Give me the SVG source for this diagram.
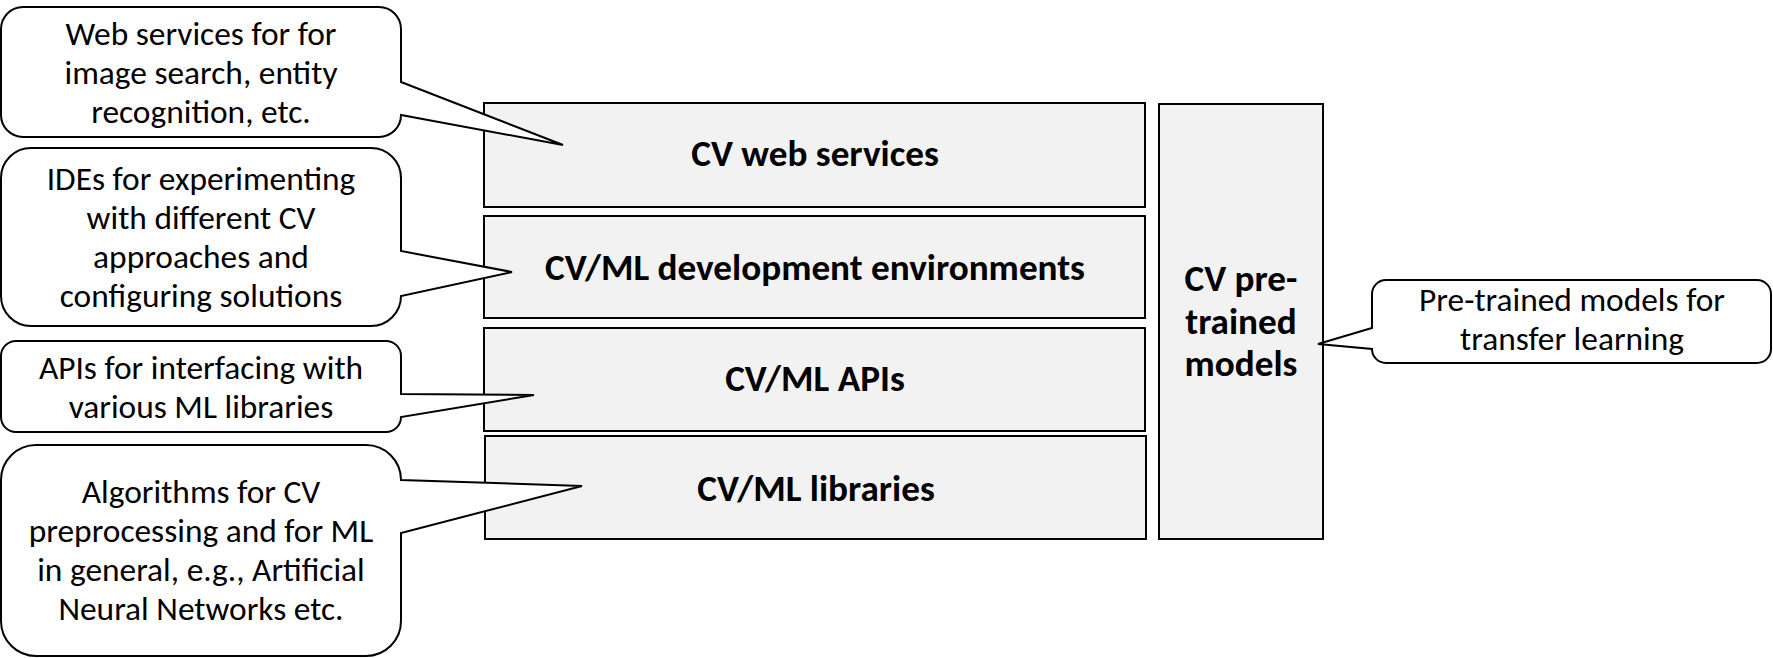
<svg xmlns="http://www.w3.org/2000/svg" width="1773" height="658" viewBox="0 0 1773 658">
<style>
.box{fill:#f2f2f2;stroke:#000;stroke-width:2}
.call{fill:#fff;stroke:#000;stroke-width:2;stroke-linejoin:miter}
.t{font-family:Carlito,Calibri,Lato,"Liberation Sans",sans-serif;font-size:33.4px;fill:#000;text-anchor:middle}
.b{font-weight:bold;font-size:37.2px}
</style>
<rect width="1773" height="658" fill="#fff"/>
<g id="connectors">
</g>
<g id="box-web">
<rect class="box" x="484" y="103" width="661" height="104"/>
<text class="t b" x="815" y="166">CV web services</text>
</g>
<g id="box-dev">
<rect class="box" x="484" y="216" width="661" height="102"/>
<text class="t b" x="815" y="280">CV/ML development environments</text>
</g>
<g id="box-apis">
<rect class="box" x="484" y="328" width="661" height="103"/>
<text class="t b" x="815" y="391">CV/ML APIs</text>
</g>
<g id="box-libs">
<rect class="box" x="485" y="436" width="661" height="103"/>
<text class="t b" x="816" y="501">CV/ML libraries</text>
</g>
<g id="box-pretrained">
<rect class="box" x="1159" y="104" width="164" height="435"/>
<text class="t b" x="1241" y="291">CV pre-</text>
<text class="t b" x="1241" y="334">trained</text>
<text class="t b" x="1241" y="376">models</text>
</g>
<g id="callout-web">
<path class="call" d="M23,7 H379 A22,22 0 0 1 401,29 V82 L563,145 L401,115 A22,22 0 0 1 379,137 H23 A22,22 0 0 1 1,115 V29 A22,22 0 0 1 23,7 Z"/>
<text class="t" x="201" y="45">Web services for for</text>
<text class="t" x="201" y="84">image search, entity</text>
<text class="t" x="201" y="123">recognition, etc.</text>
</g>
<g id="callout-dev">
<path class="call" d="M31,148 H371 A30,30 0 0 1 401,178 V251 L512,272 L401,296 A30,30 0 0 1 371,326 H31 A30,30 0 0 1 1,296 V178 A30,30 0 0 1 31,148 Z"/>
<text class="t" x="201" y="190">IDEs for experimenting</text>
<text class="t" x="201" y="229">with different CV</text>
<text class="t" x="201" y="268">approaches and</text>
<text class="t" x="201" y="307">configuring solutions</text>
</g>
<g id="callout-apis">
<path class="call" d="M16,341 H386 A15,15 0 0 1 401,356 V394 L534,395 L401,417 A15,15 0 0 1 386,432 H16 A15,15 0 0 1 1,417 V356 A15,15 0 0 1 16,341 Z"/>
<text class="t" x="201" y="379">APIs for interfacing with</text>
<text class="t" x="201" y="418">various ML libraries</text>
</g>
<g id="callout-libs">
<path class="call" d="M36,445 H366 A35,35 0 0 1 401,480 L582,486 L401,533 V621 A35,35 0 0 1 366,656 H36 A35,35 0 0 1 1,621 V480 A35,35 0 0 1 36,445 Z"/>
<text class="t" x="201" y="503">Algorithms for CV</text>
<text class="t" x="201" y="542">preprocessing and for ML</text>
<text class="t" x="201" y="581">in general, e.g., Artificial</text>
<text class="t" x="201" y="620">Neural Networks etc.</text>
</g>
<g id="callout-pretrained">
<path class="call" d="M1386,280 H1757 A14,14 0 0 1 1771,294 V349 A14,14 0 0 1 1757,363 H1386 A14,14 0 0 1 1372,349 L1318,344 L1372,328 V294 A14,14 0 0 1 1386,280 Z"/>
<text class="t" x="1572" y="311">Pre-trained models for</text>
<text class="t" x="1572" y="350">transfer learning</text>
</g>
</svg>
